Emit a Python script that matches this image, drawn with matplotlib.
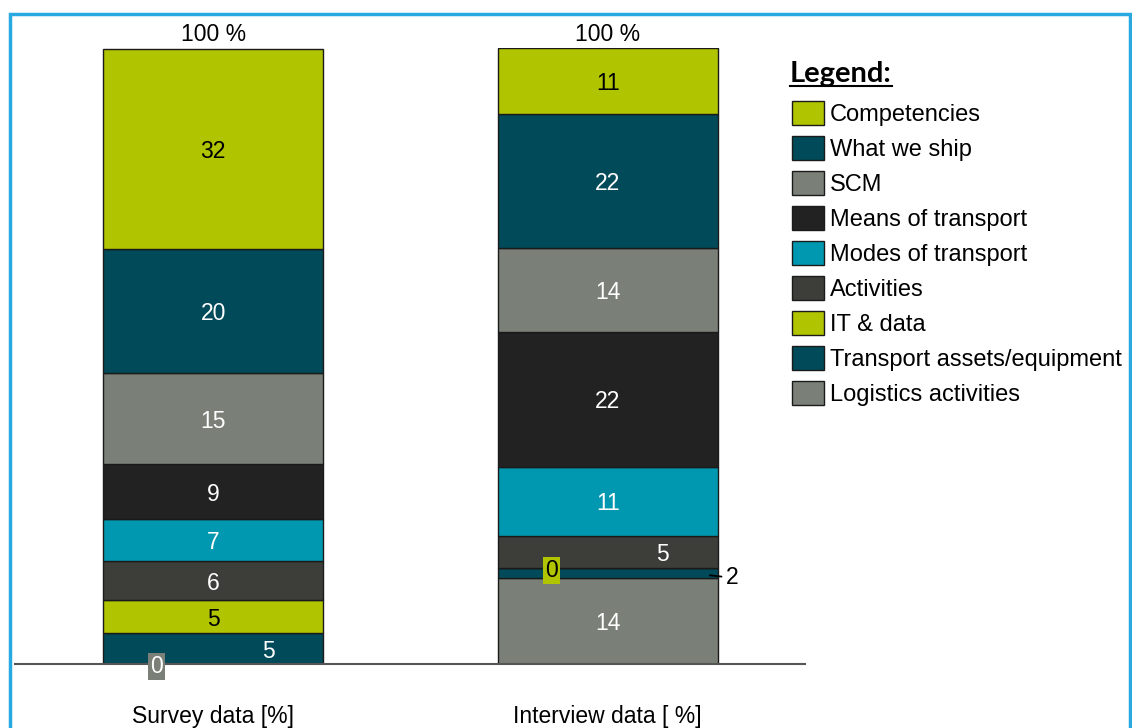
import matplotlib
matplotlib.use("Agg")
import matplotlib.pyplot as plt
from matplotlib.patches import Rectangle
from matplotlib.lines import Line2D
import numpy as np

plt.rcParams['font.family'] = ['Liberation Sans', 'DejaVu Sans']

groups = ['Survey data [%]', 'Interview data [ %]']
# stacked from the bottom up
categories = ['Logistics activities', 'Transport assets/equipment', 'IT & data',
              'Activities', 'Modes of transport', 'Means of transport', 'SCM',
              'What we ship', 'Competencies']
survey = [0, 5.0, 5.4, 6.3, 6.8, 8.9, 14.9, 20.1, 32.5]
interview = [14.0, 1.6, 0, 5.2, 11.2, 21.9, 13.6, 21.8, 10.7]
colors = ['#7a8078', '#014a5a', '#b0c400', '#3d3e39', '#0098b0',
          '#222222', '#7a8078', '#014a5a', '#b0c400']
totals = ['100 %', '100 %']

fs = 16.5
fig = plt.figure(figsize=(11.32, 7.28), dpi=100)
ax = fig.add_axes([15 / 1132, 1 - 664 / 728, 790 / 1132, 616 / 728])

x = np.arange(len(groups))
width = 0.558
data = np.array([survey, interview])
bottoms = np.zeros(len(groups))
handles = []
for i, cat in enumerate(categories):
    vals = data[:, i]
    bars = ax.bar(x, vals, width, bottom=bottoms, color=colors[i],
                  edgecolor='#1a1a1a', linewidth=1, label=cat)
    handles.append(bars)
    txt = 'black' if colors[i] == '#b0c400' else 'white'
    for g in range(len(groups)):
        v = vals[g]
        if v == 0:
            # zero categories get a small coloured box at the segment base
            ax.text(x[g] - 0.143, bottoms[g], '0', ha='center', va='center_baseline',
                    fontsize=fs, color=txt, clip_on=False,
                    bbox=dict(boxstyle='square,pad=0.1', fc=colors[i], ec='none'))
        elif v < 3:
            yl = bottoms[g] + v / 2 - 0.4
            ax.annotate('%d' % round(v), xy=(x[g] + width / 2 - 0.02, yl),
                        xytext=(x[g] + width / 2 + 0.02, yl),
                        ha='left', va='center_baseline', fontsize=fs,
                        annotation_clip=False,
                        arrowprops=dict(arrowstyle='-', lw=1.3, color='black',
                                        shrinkA=1, shrinkB=0))
        else:
            dx = 0.14 if (i == 1 and g == 0) or (i == 3 and g == 1) else 0
            ax.text(x[g] + dx, bottoms[g] + v / 2, '%d' % round(v), ha='center',
                    va='center_baseline', fontsize=fs, color=txt)
    bottoms = bottoms + vals

for g in range(len(groups)):
    ax.text(x[g], 100.3, totals[g], ha='center', va='bottom', fontsize=fs,
            clip_on=False)

ax.set_xlim(-0.502, 1.5)
ax.set_ylim(0, 100)
ax.set_yticks([])
ax.set_xticks(x, groups, fontsize=fs)
ax.tick_params(axis='x', length=0, pad=29.5)
for s in ['top', 'right', 'left']:
    ax.spines[s].set_visible(False)
ax.spines['bottom'].set_color('#555555')
ax.spines['bottom'].set_linewidth(1.5)

leg = fig.legend(handles=handles[::-1], labels=categories[::-1], loc='upper left',
                 bbox_to_anchor=(792 / 1132, 1 - 101 / 728), frameon=False,
                 fontsize=17, handlelength=1.35, handleheight=1.2,
                 handletextpad=0.25, labelspacing=0.42, borderpad=0,
                 borderaxespad=0)

title = fig.text(790 / 1132, 1 - 74 / 728, 'Legend:', family=['Lato', 'DejaVu Sans'],
                 fontweight='bold', fontsize=21, va='center', ha='left')
fig.canvas.draw()
bb = title.get_window_extent().transformed(fig.transFigure.inverted())
fig.lines.append(Line2D([bb.x0, bb.x1], [bb.y0 + 0.002, bb.y0 + 0.002],
                        transform=fig.transFigure, color='black', lw=1.5))

fig.patches.append(Rectangle((9.5 / 1132, -0.05), (1130 - 9.5) / 1132,
                             (728 - 13.5) / 728 + 0.05, transform=fig.transFigure,
                             fill=False, edgecolor='#29a9e1', lw=2.5))

fig.savefig('out.png', dpi=100)
